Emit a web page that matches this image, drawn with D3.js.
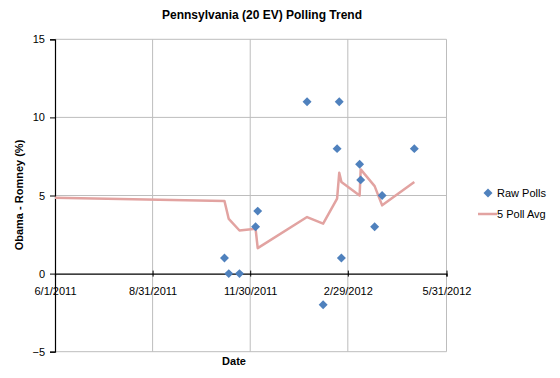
<!DOCTYPE html>
<html><head><meta charset="utf-8">
<script src="https://cdn.jsdelivr.net/npm/d3@7"></script>
<style>body{margin:0;background:#fff;}svg{display:block;font-family:"Liberation Sans",Arial,sans-serif;}</style>
</head><body>
<svg id="c" width="560" height="378"></svg>
<script>
const pollDates = ["2011-11-06","2011-11-10","2011-11-20","2011-12-05","2011-12-07","2012-01-22","2012-02-06","2012-02-19","2012-02-21","2012-02-23","2012-03-11","2012-03-12","2012-03-25","2012-04-01","2012-05-01"];
const pollValues = [1,0,0,3,4,11,-2,8,11,1,7,6,3,5,8];
const avgDates = ["2011-06-01","2011-11-06","2011-11-10","2011-11-20","2011-12-05","2011-12-07","2012-01-22","2012-02-06","2012-02-19","2012-02-21","2012-02-23","2012-03-11","2012-03-12","2012-03-25","2012-04-01","2012-05-01"];
const avgValues = [4.85,4.65,3.5,2.76,2.87,1.63,3.62,3.2,4.8,6.45,5.87,5.0,6.67,5.6,4.37,5.87];
const xTickDates = ["2011-06-01","2011-08-31","2011-11-30","2012-02-29","2012-05-31"];
const yTicks = [-5,0,5,10,15];

const parse = d3.timeParse("%Y-%m-%d");
const svg = d3.select("#c");
const L=55, R=446.5, T=39.3, B=351.7;
const x = d3.scaleTime().domain([parse("2011-06-01"), parse("2012-05-31")]).range([L,R]);
const y = d3.scaleLinear().domain([-5,15]).range([B,T]);
const grid = "#bdbdbd";

svg.append("g").selectAll("line").data(yTicks.filter(v=>v!==0)).join("line")
  .attr("x1",L).attr("x2",R).attr("y1",d=>y(d)).attr("y2",d=>y(d))
  .attr("stroke",grid).attr("stroke-width",1);
svg.append("g").selectAll("line").data(xTickDates.slice(1)).join("line")
  .attr("x1",d=>x(parse(d))).attr("x2",d=>x(parse(d))).attr("y1",T).attr("y2",B)
  .attr("stroke",grid).attr("stroke-width",1);

const yAxis = d3.axisLeft(y).tickValues(yTicks).tickSize(5).tickPadding(5).tickFormat(d3.format("d"));
const gy = svg.append("g").attr("transform",`translate(${L},0)`).call(yAxis);
gy.select(".domain").attr("stroke","#000").attr("stroke-width",1.2);
gy.selectAll(".tick line").attr("stroke","#000");
gy.selectAll("text").attr("font-size",11).attr("fill","#000");

const xAxis = d3.axisBottom(x).tickValues(xTickDates.map(parse)).tickSize(3).tickPadding(11).tickFormat(d3.timeFormat("%-m/%-d/%Y"));
const gx = svg.append("g").attr("transform",`translate(0,${y(0)})`).call(xAxis);
gx.select(".domain").attr("stroke","#000").attr("stroke-width",1.2);
gx.selectAll(".tick line").attr("stroke","#000").attr("y1",-3);
gx.selectAll("text").attr("font-size",11).attr("fill","#000");

const line = d3.line().x((d,i)=>x(parse(avgDates[i]))).y(d=>y(d));
svg.append("path").datum(avgValues).attr("d",line).attr("fill","none")
  .attr("stroke","#e2a3a1").attr("stroke-width",2.5).attr("stroke-linejoin","round");

const sym = d3.symbol().type(d3.symbolSquare).size(40);
svg.append("g").selectAll("path").data(pollValues).join("path")
  .attr("d",sym)
  .attr("transform",(d,i)=>`translate(${x(parse(pollDates[i]))},${y(d)}) rotate(45)`)
  .attr("fill","#4f81bd");

svg.append("text").attr("x",262).attr("y",19).attr("text-anchor","middle")
  .attr("font-size",12).attr("font-weight","bold").text("Pennsylvania (20 EV) Polling Trend");
svg.append("text").attr("x",234).attr("y",365).attr("text-anchor","middle")
  .attr("font-size",11).attr("font-weight","bold").text("Date");
svg.append("text").attr("transform","translate(23,195) rotate(-90)").attr("text-anchor","middle")
  .attr("font-size",11).attr("font-weight","bold").text("Obama - Romney (%)");

svg.append("path").attr("d",sym).attr("transform","translate(488,193) rotate(45)").attr("fill","#4f81bd");
svg.append("text").attr("x",497).attr("y",197).attr("font-size",11).text("Raw Polls");
svg.append("line").attr("x1",478).attr("x2",497).attr("y1",214).attr("y2",214).attr("stroke","#e2a3a1").attr("stroke-width",2.5);
svg.append("text").attr("x",497).attr("y",218).attr("font-size",11).text("5 Poll Avg");
</script>
</body></html>
